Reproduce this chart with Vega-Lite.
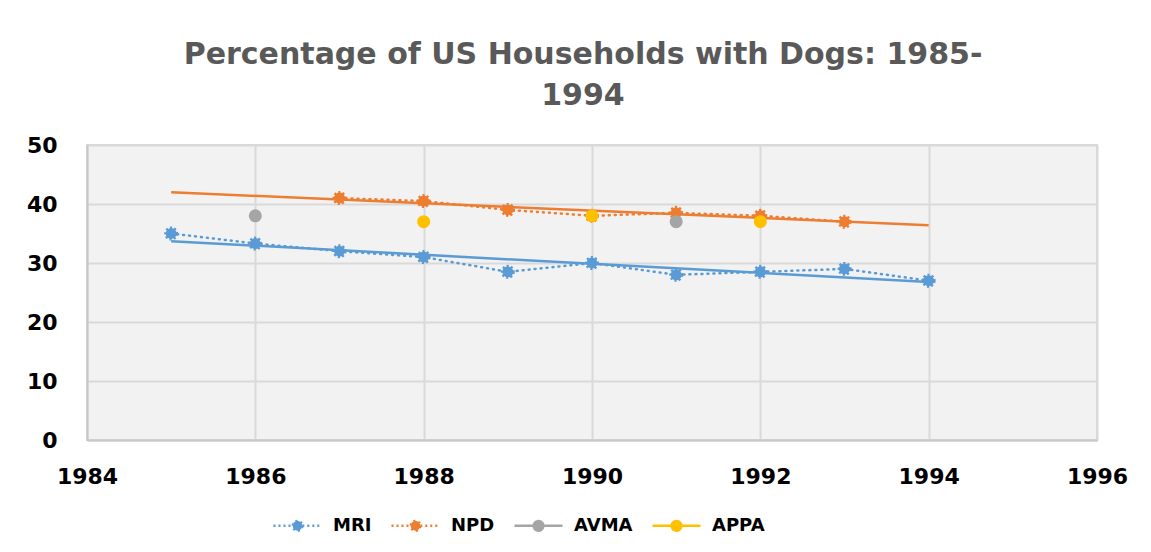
{
  "$schema": "https://vega.github.io/schema/vega-lite/v6.json",
  "autosize": "none",
  "width": 1010,
  "height": 295,
  "padding": {"left": 87, "top": 145, "right": 54, "bottom": 112},
  "background": "#ffffff",
  "title": {
    "text": ["Percentage of US Households with Dogs: 1985-", "1994"],
    "font": "DejaVu Sans",
    "fontSize": 30,
    "fontWeight": "bold",
    "color": "#595959",
    "anchor": "middle",
    "lineHeight": 41,
    "offset": 23,
    "dx": -9
  },
  "config": {
    "view": {"fill": "#f2f2f2", "stroke": "#d9d9d9", "strokeWidth": 2},
    "axis": {
      "labelFont": "DejaVu Sans",
      "labelFontSize": 22,
      "labelFontWeight": "bold",
      "labelColor": "#000000",
      "gridColor": "#d9d9d9",
      "gridWidth": 2,
      "domainColor": "#c8c8c8",
      "domainWidth": 2,
      "ticks": false,
      "title": null
    }
  },
  "datasets": {
    "obs": [
      {"series": "MRI", "year": 1985, "value": 35.0},
      {"series": "MRI", "year": 1986, "value": 33.3},
      {"series": "MRI", "year": 1987, "value": 32.0},
      {"series": "MRI", "year": 1988, "value": 31.0},
      {"series": "MRI", "year": 1989, "value": 28.5},
      {"series": "MRI", "year": 1990, "value": 30.0},
      {"series": "MRI", "year": 1991, "value": 28.0},
      {"series": "MRI", "year": 1992, "value": 28.5},
      {"series": "MRI", "year": 1993, "value": 29.0},
      {"series": "MRI", "year": 1994, "value": 27.0},
      {"series": "NPD", "year": 1987, "value": 41.0},
      {"series": "NPD", "year": 1988, "value": 40.5},
      {"series": "NPD", "year": 1989, "value": 39.0},
      {"series": "NPD", "year": 1990, "value": 38.0},
      {"series": "NPD", "year": 1991, "value": 38.5},
      {"series": "NPD", "year": 1992, "value": 38.0},
      {"series": "NPD", "year": 1993, "value": 37.0},
      {"series": "AVMA", "year": 1986, "value": 38.0},
      {"series": "AVMA", "year": 1991, "value": 37.0},
      {"series": "APPA", "year": 1988, "value": 37.0},
      {"series": "APPA", "year": 1990, "value": 38.0},
      {"series": "APPA", "year": 1992, "value": 37.0}
    ],
    "trend": [
      {"series": "MRI", "year": 1985, "value": 33.7},
      {"series": "MRI", "year": 1994, "value": 26.8},
      {"series": "NPD", "year": 1985, "value": 42.0},
      {"series": "NPD", "year": 1994, "value": 36.4}
    ]
  },
  "encoding": {
    "x": {
      "field": "year",
      "type": "quantitative",
      "scale": {"domain": [1984, 1996], "nice": false, "zero": false},
      "axis": {"values": [1984, 1986, 1988, 1990, 1992, 1994, 1996], "format": "d", "labelPadding": 26, "labelFlush": false}
    },
    "y": {
      "field": "value",
      "type": "quantitative",
      "scale": {"domain": [0, 50], "nice": false},
      "axis": {"values": [0, 10, 20, 30, 40, 50], "labelPadding": 30}
    },
    "color": {
      "field": "series",
      "type": "nominal",
      "scale": {"domain": ["MRI", "NPD", "AVMA", "APPA"], "range": ["#5b9bd5", "#ed7d31", "#a5a5a5", "#ffc000"]},
      "legend": {
        "orient": "none",
        "legendX": 185,
        "legendY": 355,
        "direction": "horizontal",
        "title": null,
        "labelFont": "DejaVu Sans",
        "labelFontSize": 18,
        "labelFontWeight": "bold",
        "labelColor": "#000000",
        "labelOffset": 10,
        "columnPadding": 14,
        "symbolSize": 2304,
        "symbolType": "M-1,0L-0.2,0M0.2,0L1,0M0.2,0A0.2,0.2,0,1,1,-0.2,0A0.2,0.2,0,1,1,0.2,0Z",
        "symbolStrokeWidth": 2.5,
        "encode": {
          "symbols": {
            "update": {
              "fill": {"scale": "color", "field": "value"},
              "stroke": {"scale": "color", "field": "value"},
              "strokeWidth": {"value": 2.5},
              "opacity": {"value": 1},
              "fillOpacity": {"value": 1},
              "strokeDash": [
                {"test": "datum.value === 'MRI' || datum.value === 'NPD'", "value": [2, 3]},
                {"value": [1, 0]}
              ]
            }
          }
        }
      }
    }
  },
  "layer": [
    {
      "data": {"name": "trend"},
      "mark": {"type": "line", "strokeWidth": 2.5}
    },
    {
      "data": {"name": "obs"},
      "transform": [{"filter": "datum.series === 'MRI' || datum.series === 'NPD'"}],
      "mark": {"type": "line", "strokeWidth": 2.5, "strokeDash": [1, 5], "strokeCap": "round"}
    },
    {
      "data": {"name": "obs"},
      "transform": [{"filter": "datum.series === 'MRI' || datum.series === 'NPD'"}],
      "mark": {"type": "point", "shape": "circle", "filled": true, "size": 120, "opacity": 1, "strokeWidth": 3, "strokeDash": [2, 2]},
      "encoding": {
        "stroke": {"field": "series", "type": "nominal", "scale": {"domain": ["MRI", "NPD", "AVMA", "APPA"], "range": ["#5b9bd5", "#ed7d31", "#a5a5a5", "#ffc000"]}, "legend": null}
      }
    },
    {
      "data": {"name": "obs"},
      "transform": [{"filter": "datum.series === 'AVMA' || datum.series === 'APPA'"}],
      "mark": {"type": "point", "shape": "circle", "filled": true, "size": 170, "opacity": 1}
    }
  ]
}
